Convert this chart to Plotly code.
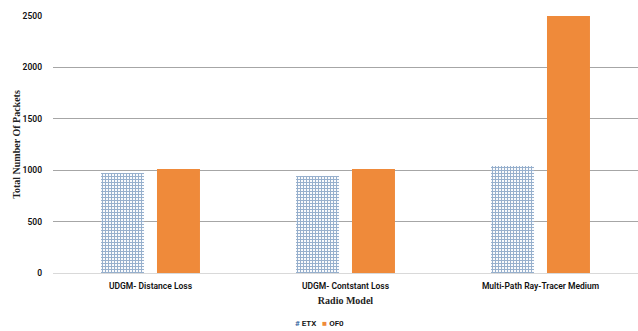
import plotly.graph_objects as go

categories = ["UDGM- Distance Loss", "UDGM- Contstant Loss", "Multi-Path Ray-Tracer Medium"]
etx_values = [973, 944, 1041]
of0_values = [1012, 1012, 2500]
y_ticks = [0, 500, 1000, 1500, 2000, 2500]
series_names = ["ETX", "OF0"]

ETX_BLUE = "#2f619c"
OF0_ORANGE = "#ef8a3a"

fig = go.Figure()
fig.add_trace(go.Bar(
    name=series_names[0], x=categories, y=etx_values,
    marker=dict(
        color="white",
        line=dict(width=0),
        pattern=dict(shape="+", size=3, solidity=0.6,
                     fgcolor=ETX_BLUE, bgcolor="white", fillmode="overlay"),
    ),
))
fig.add_trace(go.Bar(
    name=series_names[1], x=categories, y=of0_values,
    marker=dict(color=OF0_ORANGE, line=dict(width=0)),
))

# compact key row under the axis title
key_text = (f"<span style='color:{ETX_BLUE}'>#</span> {series_names[0]}"
            f"&nbsp;&nbsp;&nbsp;<span style='color:{OF0_ORANGE}'>■</span> {series_names[1]}")
fig.add_annotation(
    text=key_text, xref="paper", yref="paper", x=0.456, y=-0.195,
    xanchor="center", yanchor="middle", showarrow=False,
    font=dict(size=8, family="Roboto", weight=600, color="#111"),
)

fig.update_layout(
    width=638, height=331,
    margin=dict(l=53, r=0, t=16, b=58),
    plot_bgcolor="white", paper_bgcolor="white",
    barmode="group", bargap=0.426, bargroupgap=0.232,
    font=dict(family="Roboto", size=9, color="#111"),
    showlegend=False,
)
fig.update_xaxes(
    showgrid=False, showline=False, ticks="", automargin=True,
    ticklabelstandoff=6,
    tickfont=dict(size=8.5, family="Roboto", color="#111", weight=600),
    title=dict(text="<b>Radio Model</b>", font=dict(family="Liberation Serif", size=10, color="#222"),
               standoff=7),
)
fig.update_yaxes(
    range=[0, 2500], tickvals=y_ticks, showgrid=True, gridcolor="#a6a6a6", gridwidth=1,
    zeroline=True, zerolinecolor="#d9d9d9", zerolinewidth=1, showline=False, automargin=True,
    ticklabelstandoff=10,
    tickfont=dict(size=8.5, family="Roboto", color="#111", weight=600), ticklen=0, ticks="",
    title=dict(text="<b>Total Number Of Packets</b>", font=dict(family="Liberation Serif", size=10, color="#222"),
               standoff=0),
)

fig.write_html("out.html")
